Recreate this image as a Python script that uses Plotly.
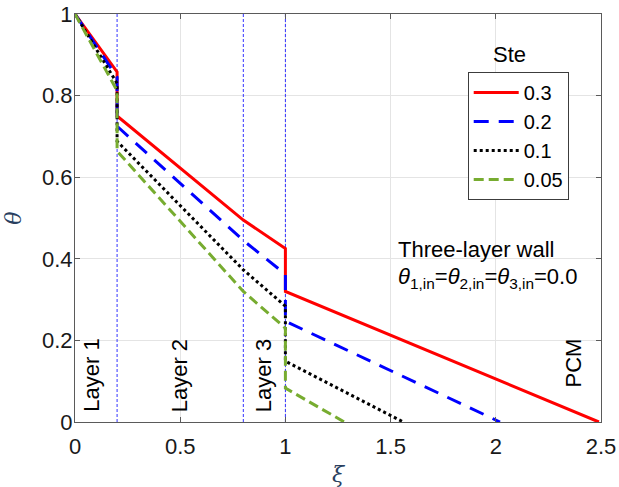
import plotly.graph_objects as go

# Dimensionless temperature profiles through a three-layer wall and PCM
ste_labels = ["0.3", "0.2", "0.1", "0.05"]

xi_03 = [0, 0.2, 0.2, 0.8, 1.0, 1.0, 2.49]
theta_03 = [1, 0.858, 0.750, 0.495, 0.425, 0.320, 0]

xi_02 = [0, 0.2, 0.2, 0.8, 1.0, 1.0, 2.02]
theta_02 = [1, 0.845, 0.725, 0.445, 0.362, 0.247, 0]

xi_01 = [0, 0.2, 0.2, 0.8, 1.0, 1.0, 1.56]
theta_01 = [1, 0.830, 0.688, 0.373, 0.284, 0.149, 0]

xi_005 = [0, 0.2, 0.2, 0.8, 1.0, 1.0, 1.28]
theta_005 = [1, 0.812, 0.664, 0.320, 0.230, 0.083, 0]

layer_bounds = [0.2, 0.8, 1.0]
x_ticks = [0, 0.5, 1, 1.5, 2, 2.5]
x_tick_text = ["0", "0.5", "1", "1.5", "2", "2.5"]
y_ticks = [0, 0.2, 0.4, 0.6, 0.8, 1]
y_tick_text = ["0", "0.2", "0.4", "0.6", "0.8", "1"]

FONT = "Liberation Sans, Arial, sans-serif"
FS = 22

series = [
    (xi_03, theta_03, ste_labels[0], "rgb(255,0,0)", "solid"),
    (xi_02, theta_02, ste_labels[1], "rgb(0,0,255)", "15px,10px"),
    (xi_01, theta_01, ste_labels[2], "rgb(0,0,0)", "dot"),
    (xi_005, theta_005, ste_labels[3], "rgb(119,172,48)", "10px,5px"),
]

fig = go.Figure()

# layer boundaries
for xb in layer_bounds:
    fig.add_shape(type="line", x0=xb, x1=xb, y0=0, y1=1, xref="x", yref="y",
                  line=dict(color="rgb(50,50,255)", width=1, dash="3px,2px"), layer="between")

for xs, ys, name, color, dash in series:
    fig.add_trace(go.Scatter(x=xs, y=ys, mode="lines", name=name,
                             line=dict(color=color, width=3, dash=dash)))

annots = []
for text, xa, ya in [("Layer 1", 0.078, 0.02), ("Layer 2", 0.494, 0.02),
                     ("Layer 3", 0.893, 0.02), ("PCM", 2.37, 0.08)]:
    annots.append(dict(x=xa, y=ya, xref="x", yref="y", text=text, textangle=-90,
                       showarrow=False, xanchor="center", yanchor="bottom",
                       font=dict(family=FONT, size=FS, color="black")))

annots.append(dict(x=1.525, y=0.422, xref="x", yref="y", text="Three-layer wall",
                   showarrow=False, xanchor="left", yanchor="middle",
                   font=dict(family=FONT, size=FS, color="black")))
annots.append(dict(x=1.525, y=0.352, xref="x", yref="y",
                   text="<i>θ</i><sub>1,in</sub>=<i>θ</i><sub>2,in</sub>=<i>θ</i><sub>3,in</sub>=0.0",
                   showarrow=False, xanchor="left", yanchor="middle",
                   font=dict(family=FONT, size=FS, color="black")))
annots.append(dict(x=2.065, y=0.90, xref="x", yref="y", text="Ste",
                   showarrow=False, xanchor="center", yanchor="middle",
                   font=dict(family=FONT, size=FS, color="black")))

axis_common = dict(
    showgrid=True, gridcolor="rgb(228,228,228)", gridwidth=1,
    showline=True, linecolor="rgb(90,90,90)", linewidth=1, mirror="ticks",
    ticks="inside", ticklen=5, tickcolor="rgb(90,90,90)", automargin=False,
    zeroline=False, tickfont=dict(family=FONT, size=FS, color="rgb(25,25,25)"),
)

fig.update_layout(
    width=619, height=487,
    margin=dict(l=75, r=18, t=14, b=65),
    paper_bgcolor="white", plot_bgcolor="white",
    showlegend=True,
    legend=dict(x=0.7466, y=0.858, xanchor="left", yanchor="top",
                bgcolor="white", bordercolor="rgb(60,60,60)", borderwidth=1,
                font=dict(family=FONT, size=20, color="black"),
                itemwidth=45, tracegroupgap=0),
    annotations=annots,
    xaxis=dict(range=[0, 2.5], tickvals=x_ticks, ticktext=x_tick_text,
               ticklabelstandoff=5,
               title=dict(text="<i>ξ</i>", font=dict(family="DejaVu Serif, serif", size=FS), standoff=10),
               **axis_common),
    yaxis=dict(range=[0, 1], tickvals=y_ticks, ticktext=y_tick_text,
               ticklabelstandoff=-3,
               title=dict(text="<i>θ</i>", font=dict(family="DejaVu Serif, serif", size=FS), standoff=14),
               **axis_common),
)

fig.write_html("out.html")
